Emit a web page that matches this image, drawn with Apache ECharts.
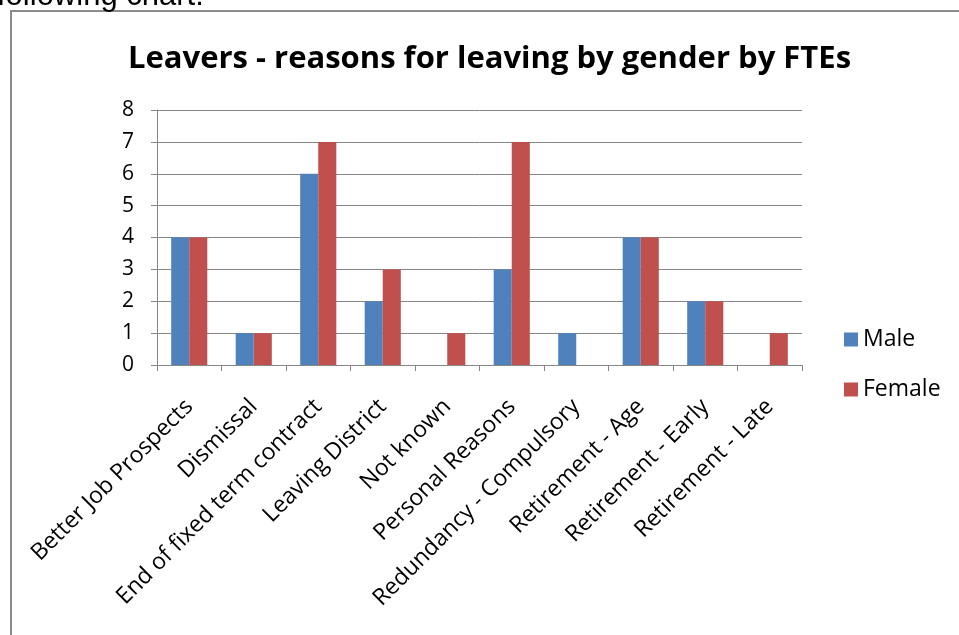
<!DOCTYPE html>
<html>
<head>
<meta charset="utf-8">
<script src="https://cdn.jsdelivr.net/npm/echarts@6/dist/echarts.min.js"></script>
<style>
  html, body { margin: 0; padding: 0; background: #fff; }
  #main { width: 959px; height: 635px; }
</style>
</head>
<body>
<div id="main"></div>
<script>
    var reasons = ['Better Job Prospects', 'Dismissal', 'End of fixed term contract', 'Leaving District',
        'Not known', 'Personal Reasons', 'Redundancy - Compulsory', 'Retirement - Age',
        'Retirement - Early', 'Retirement - Late'];
    var male = [4, 1, 6, 2, null, 3, 1, 4, 2, null];
    var female = [4, 1, 7, 3, 1, 7, null, 4, 2, 1];
    var yTicks = [0, 1, 2, 3, 4, 5, 6, 7, 8];

    var myChart = echarts.init(document.getElementById('main'));
    option = {
        animation: false,
        textStyle: { fontFamily: 'Open Sans' },
        title: {
            text: 'Leavers - reasons for leaving by gender by FTEs',
            left: 123,
            top: 39,
            textStyle: { fontSize: 31, fontWeight: 'bold', color: '#000', fontFamily: 'Open Sans' }
        },
        // page frame + cut-off line of text above the chart
        graphic: [
            {
                type: 'rect',
                shape: { x: 11, y: 11, width: 1000, height: 700 },
                style: { fill: 'none', stroke: '#8c8c8c', lineWidth: 2 }
            },
            {
                type: 'text',
                left: -3,
                top: -19,
                style: { text: 'following chart:', fontSize: 31, fontFamily: 'Liberation Sans', fill: '#000' }
            }
        ],
        legend: {
            orient: 'vertical',
            left: 839,
            top: 323,
            itemGap: 27,
            itemWidth: 14,
            itemHeight: 14,
            icon: 'rect',
            textStyle: { fontSize: 23, color: '#000', fontFamily: 'Open Sans' },
            data: ['Male', 'Female']
        },
        grid: { left: 157, right: 157, top: 110, bottom: 270 },
        xAxis: {
            type: 'category',
            data: reasons,
            axisLine: { lineStyle: { color: '#868686' } },
            axisTick: { show: true, length: 6, lineStyle: { color: '#868686' } },
            axisLabel: { rotate: 45, fontSize: 23, color: '#000', interval: 0, margin: 38 }
        },
        yAxis: {
            type: 'value',
            min: 0,
            max: 8,
            interval: 1,
            axisLine: { show: true, lineStyle: { color: '#868686' } },
            axisTick: { show: true, length: 6, lineStyle: { color: '#868686' } },
            axisLabel: {
                fontSize: 21, color: '#000', margin: 23,
                formatter: function (v) { return yTicks.indexOf(v) >= 0 ? String(v) : ''; }
            },
            splitLine: { lineStyle: { color: '#868686' } }
        },
        series: [
            {
                name: 'Male',
                type: 'bar',
                data: male,
                barGap: '0%',
                barCategoryGap: '44%',
                itemStyle: { color: '#4F81BD' }
            },
            {
                name: 'Female',
                type: 'bar',
                data: female,
                barGap: '0%',
                barCategoryGap: '44%',
                itemStyle: { color: '#C0504D' }
            }
        ]
    };
    myChart.setOption(option);
</script>
</body>
</html>
